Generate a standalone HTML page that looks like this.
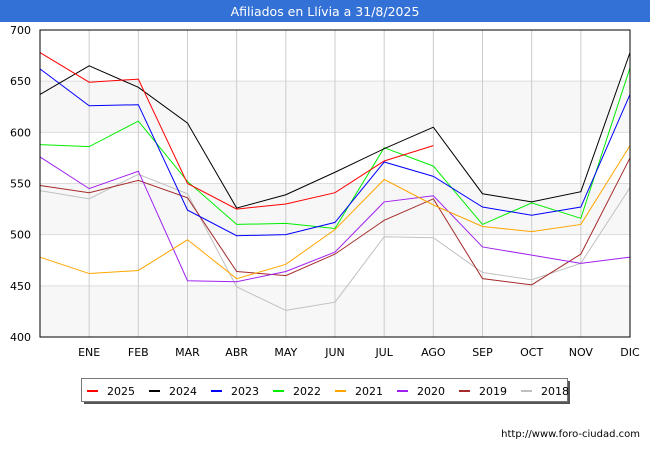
<!DOCTYPE html>
<html><head><meta charset="utf-8"><style>
body{margin:0;background:#fff;font-family:"Liberation Sans","DejaVu Sans",sans-serif}
svg text{font-family:"DejaVu Sans","Liberation Sans",sans-serif}
</style></head><body>
<svg id="c" width="650" height="450" xmlns="http://www.w3.org/2000/svg">
<rect x="0" y="0" width="650" height="22" fill="#3371d6"/>
<text x="325" y="16" fill="#fff" font-size="12.5" text-anchor="middle">Afiliados en Llívia a 31/8/2025</text>
<g id="bands"></g><g id="grid"></g><g id="series"></g>
<rect x="40" y="30" width="590" height="307" fill="none" stroke="#000" stroke-width="1"/>
<g id="axes"></g>
<rect x="84" y="381" width="486" height="23" fill="#555"/>
<rect x="81.5" y="378.5" width="486" height="23" fill="#fff" stroke="#777"/>
<g id="legend"></g>
<text x="640" y="437" font-size="10" text-anchor="end" fill="#000">http://www.foro-ciudad.com</text>
</svg>
<script>
const months=["","ENE","FEB","MAR","ABR","MAY","JUN","JUL","AGO","SEP","OCT","NOV","DIC"];
const yTicks=[400,450,500,550,600,650,700];
const years=["2025","2024","2023","2022","2021","2020","2019","2018"];
const colors=["#ff0000","#000000","#0000ff","#00ee00","#ffa500","#a020f0","#a52a2a","#c0c0c0"];
const s2025=[678,649,652,550,525,530,541,572,587];
const s2024=[637,665,644,609,526,539,561,584,605,540,532,542,678];
const s2023=[662,626,627,524,499,500,512,571,557,527,519,527,637];
const s2022=[588,586,611,552,510,511,506,585,567,510,531,516,663];
const s2021=[478,462,465,495,457,471,505,554,529,508,503,510,587];
const s2020=[576,545,562,455,454,464,483,532,538,488,480,472,478];
const s2019=[548,541,553,536,464,460,481,514,535,457,451,481,575];
const s2018=[543,535,559,540,449,426,434,498,497,463,456,472,546];
const series=[s2025,s2024,s2023,s2022,s2021,s2020,s2019,s2018];
const NS="http://www.w3.org/2000/svg";
const x=i=>40+i*(590/12);
const y=v=>337-(v-400)*(307/300);
function mk(t,a,p){const e=document.createElementNS(NS,t);for(const k in a)e.setAttribute(k,a[k]);p.appendChild(e);return e;}
const bands=document.getElementById('bands'),grid=document.getElementById('grid'),axes=document.getElementById('axes');
for(let k=0;k<yTicks.length-1;k+=2){
 const r=mk('rect',{x:40,y:y(yTicks[k+1]),width:590,height:y(yTicks[k])-y(yTicks[k+1]),fill:'#f7f7f7'},bands);
 
 
}
yTicks.forEach(v=>{
 const l=mk('line',{x1:40,x2:630,y1:y(v),y2:y(v),stroke:'#ddd'},grid);
 
 
 const t=mk('text',{x:31,y:y(v)+4,'font-size':11,'text-anchor':'end'},axes);t.textContent=v;
 
 
});
months.forEach((m,i)=>{
 if(i>0){const l=mk('line',{x1:x(i),x2:x(i),y1:30,y2:337,stroke:'#ccc'},grid);
 
 }
 if(m){const t=mk('text',{x:x(i),y:356,'font-size':11,'text-anchor':'middle'},axes);t.textContent=m;
 
 }
});
const sg=document.getElementById('series');
for(let k=series.length-1;k>=0;k--){
 const p=mk('polyline',{points:series[k].map((v,i)=>x(i)+','+y(v)).join(' '),fill:'none',stroke:colors[k],'stroke-width':1},sg);
 
 
}
const lg=document.getElementById('legend');
years.forEach((yr,k)=>{
 const bx=87+k*62;
 const l=mk('line',{x1:bx,x2:bx+11,y1:391,y2:391,stroke:colors[k],'stroke-width':2},lg);
 
 
 const t=mk('text',{x:bx+20,y:395,'font-size':11},lg);t.textContent=yr;
 
 
});
</script>
</body></html>
